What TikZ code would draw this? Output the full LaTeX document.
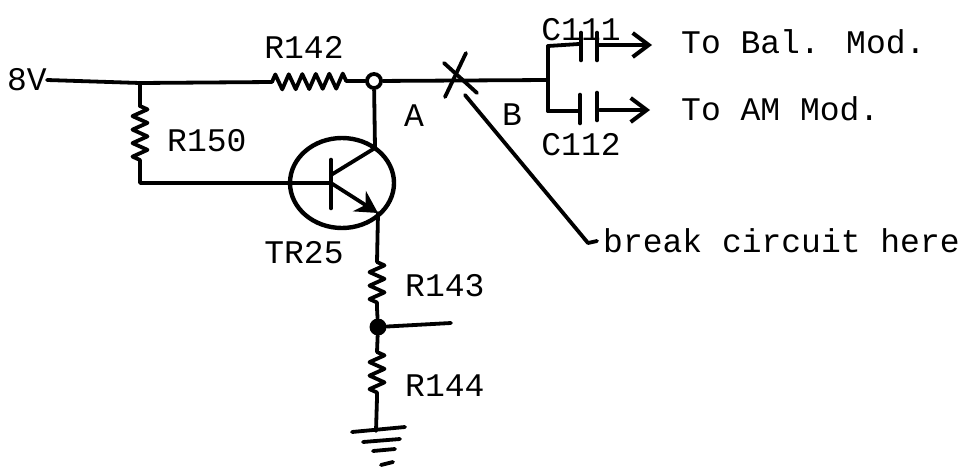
\documentclass[tikz,border=0pt]{standalone}
\usepackage{fontspec}
\setmainfont{Liberation Mono}
\usetikzlibrary{positioning,calc,shapes.geometric,arrows.meta,decorations.pathmorphing}

\begin{document}
\begin{tikzpicture}[
        x=1pt, y=-1pt,
        wire/.style={line width=3.8pt, line cap=round, line join=round},
        res/.style={wire, decorate, decoration={zigzag, segment length=13.5pt, amplitude=7.5pt}},
        plate/.style={line width=4.6pt, line cap=round},
        feed/.style={wire, -{Straight Barb[length=16pt, width=24pt, line width=4pt]}},
        tag/.style={font=\fontsize{33}{33}\selectfont, inner sep=0pt, align=center}
      ]

      \useasboundingbox (0,0) rectangle (961,466);

      \node (vin) [tag] at (27,80) {8V};
      \node (rtop) [tag] at (304,47) {R142};
      \node (rbase) [tag, anchor=west] at (167,141) {R150};
      \node (ca) [tag] at (581,30) {C111};
      \node (cb) [tag] at (581,145) {C112};
      \node (balmod) [tag, anchor=west] at (681,42) {To Bal. Mod.};
      \node (ammod) [tag, anchor=west] at (681,109) {To AM Mod.};
      \node (pa) [tag] at (414,116) {A};
      \node (pb) [tag] at (512,115) {B};
      \node (tr) [tag] at (304,253) {TR25};
      \node (rup) [tag, anchor=west] at (405,286) {R143};
      \node (rlow) [tag, anchor=west] at (405,386) {R144};
      \node (brk) [tag, anchor=west] at (603,241) {break circuit here};

      \node (nodea) [draw, circle, line width=3.8pt, minimum size=14pt, inner sep=0pt] at (374,81) {};
      \node (nodeb) [fill, circle, minimum size=17pt, inner sep=0pt] at (378,327) {};
      \node (trans) [draw, ellipse, line width=4.4pt, minimum width=104pt, minimum height=90pt, inner sep=0pt] at (342,183) {};

      \coordinate (tap) at (140,83);
      \coordinate (split) at (548,80);
      \coordinate (splitup) at (548,46);
      \coordinate (splitlow) at (548,111);
      \coordinate (base) at (331,183);
      \coordinate (coll) at (375,148);
      \coordinate (emit) at (378,213);
      \coordinate (gnd) at (376,431);

      \draw[wire] (vin.east) -- (tap) -- (272,82);
      \draw[res] (272,82) -- (349,81);
      \draw[wire] (349,81) -- (nodea);
      \draw[wire] (nodea) -- (split);
      \draw[wire] (splitup) -- (splitlow);

      \draw[wire] (tap) -- (140,106);
      \draw[res] (140,106) -- (140,166);
      \draw[wire] (140,166) -- (140,183) -- (base);

      \draw[wire] (splitup) -- (579,44);
      \draw[plate] (581,33) -- (581,60);
      \draw[plate] (597,33) -- (597,60);
      \draw[feed] (597,45) -- (652,45);
      \draw[wire] (splitlow) -- (580,111);
      \draw[plate] (580,95) -- (580,123);
      \draw[plate] (597,93) -- (597,120);
      \draw[feed] (600,110) -- (650,110);

      \draw[wire] (nodea) -- (coll);
      \draw[plate] (331,160) -- (331,208);
      \draw[wire] (331,175) -- (coll);
      \draw[wire, -{Stealth[length=22pt, width=24pt]}] (base) -- (emit);
      \draw[wire] (emit) -- (377,262);
      \draw[res] (377,262) -- (377,308);
      \draw[wire] (377,308) -- (nodeb);
      \draw[wire] (nodeb) -- (451,323);
      \draw[wire] (nodeb) -- (377,352);
      \draw[res] (377,352) -- (377,398);
      \draw[wire] (377,398) -- (gnd);

      \draw[wire] (352,432) -- (405,427);
      \draw[wire] (363,442) -- (400,439);
      \draw[wire] (373,451) -- (395,449);
      \draw[wire] (381,465) -- (393,462);

      \draw[wire] (445,97) -- (466,53);
      \draw[wire] (444,63) -- (477,93);
      \draw[wire] (465,95) -- (588,243) -- (597,241);

    \end{tikzpicture}
\end{document}
